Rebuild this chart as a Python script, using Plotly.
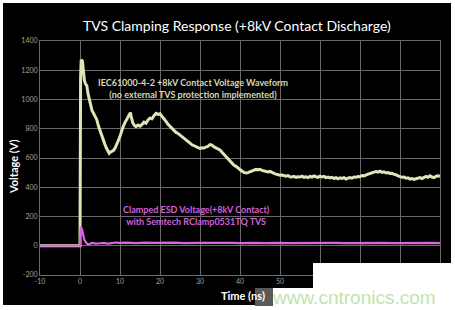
import plotly.graph_objects as go

# ---- data ----
unprotected_t = [-10, 0, 0.15, 0.3, 0.6, 0.9, 1.1, 1.4, 1.7, 2.0, 2.3, 2.6, 3.0, 3.4, 3.8, 4.2, 4.6,
                 5.0, 5.4, 5.8, 6.2, 6.6, 7.0, 7.3, 7.6, 8.0, 8.4, 8.8, 9.2, 9.6, 10.0, 10.4, 10.8,
                 11.2, 11.6, 12.0, 12.3, 12.6, 12.9, 13.2, 13.6, 14.0, 14.5, 15.0, 15.5, 16.0, 16.5,
                 17.0, 17.5, 18.0, 18.5, 19.0, 19.5, 20.0, 20.5, 21.0, 21.5, 22.0, 22.5, 23.0, 23.5,
                 24.0, 24.5, 25.0, 25.5, 26.0, 26.5, 27.0, 27.5, 28.0, 28.5, 29.0, 29.5, 30.0, 30.5,
                 31.0, 31.5, 32.0, 32.5, 33.0, 33.5, 34.0, 34.5, 35.0, 35.5, 36.0, 36.5, 37.0, 37.5,
                 38.0, 38.5, 39.0, 39.5, 40.0, 40.5, 41.0, 41.5, 42.0, 42.5, 43.0, 43.5, 44.0, 44.5,
                 45.0, 45.5, 46.0, 46.5, 47.0, 47.5, 48.0, 48.5, 49.0, 49.5, 50.0, 50.5, 51.0, 51.5,
                 52.0, 52.5, 53.0, 53.5, 54.0, 54.5, 55.0, 55.5, 56.0, 56.5, 57.0, 57.5, 58.0, 58.5,
                 59.0, 59.5, 60.0, 60.5, 61.0, 61.5, 62.0, 62.5, 63.0, 63.5, 64.0, 64.5, 65.0, 65.5,
                 66.0, 66.5, 67.0, 67.5, 68.0, 68.5, 69.0, 69.5, 70.0, 70.5, 71.0, 71.5, 72.0, 72.5,
                 73.0, 73.5, 74.0, 74.5, 75.0, 75.5, 76.0, 76.5, 77.0, 77.5, 78.0, 78.5, 79.0, 79.5,
                 80.0, 80.5, 81.0, 81.5, 82.0, 82.5, 83.0, 83.5, 84.0, 84.5, 85.0, 85.5, 86.0, 86.5,
                 87.0, 87.5, 88.0, 88.5, 89.0, 89.5, 90.0]
unprotected_v = [0, 0, 1150, 1272, 1262, 1190, 1130, 1105, 1095, 1040, 1000, 960, 925, 905, 880, 862, 820,
                 785, 750, 722, 695, 668, 648, 632, 640, 645, 652, 670, 690, 720, 748, 785, 815,
                 840, 862, 880, 900, 910, 870, 840, 822, 815, 825, 818, 830, 845, 838,
                 860, 872, 868, 890, 905, 898, 902, 885, 870, 850, 830, 815, 800, 790,
                 775, 768, 758, 745, 735, 722, 712, 702, 690, 685, 675, 672, 665, 670,
                 668, 675, 680, 692, 688, 676, 668, 660, 655, 640, 625, 605, 588, 575,
                 562, 550, 543, 530, 520, 510, 502, 497, 500, 505, 512, 518, 522, 520,
                 523, 515, 510, 508, 504, 508, 500, 495, 490, 486, 482, 484, 478, 476,
                 480, 472, 470, 474, 468, 472, 470, 476, 468, 472, 466, 474, 470, 478,
                 472, 468, 476, 470, 474, 466, 470, 464, 468, 460, 466, 458, 464, 460,
                 466, 456, 462, 466, 462, 470, 468, 474, 472, 480, 478, 486, 490, 494,
                 500, 504, 508, 504, 510, 502, 506, 498, 500, 494, 496, 488, 486, 478,
                 474, 468, 470, 462, 464, 456, 460, 454, 458, 462, 466, 460, 470, 474,
                 468, 478, 470, 466, 474, 478, 474]

clamped_t = [-10, 0, 0.05, 0.2, 0.5, 0.8, 1.1, 1.5, 2.0, 2.5, 3.0, 3.5, 4.0, 5.0, 6.0, 7.0, 8.0, 9.0,
             10, 12, 14, 16, 18, 20, 22, 24, 26, 28, 30, 32, 34, 36, 38, 40, 42, 44, 46, 48, 50,
             52, 54, 56, 58, 60, 62, 64, 66, 68, 70, 72, 74, 76, 78, 80, 82, 84, 86, 88, 90]
clamped_v = [0, 0, 60, 132, 110, 70, 40, 22, 8, 12, 20, 18, 14, 17, 20, 14, 18, 22,
             20, 22, 18, 22, 20, 22, 19, 21, 18, 21, 19, 20, 18, 20, 19, 18, 20, 19, 18, 20, 19,
             18, 19, 18, 20, 19, 18, 19, 18, 19, 18, 19, 18, 19, 18, 19, 18, 19, 18, 19, 18]

x_ticks = [-10, 0, 10, 20, 30, 40, 50, 60, 70, 80, 90]
y_ticks = [-200, 0, 200, 400, 600, 800, 1000, 1200, 1400]

YELLOW = "#dde6b6"
MAGENTA = "#d966e0"
GRID = "#6a6a6a"

fig = go.Figure()
fig.add_trace(go.Scatter(x=unprotected_t, y=unprotected_v, mode="lines",
                         line=dict(color=YELLOW, width=3), showlegend=False))
fig.add_trace(go.Scatter(x=clamped_t, y=clamped_v, mode="lines",
                         line=dict(color=MAGENTA, width=2.2), showlegend=False))

def px2paper(px, py):
    return (px - 40) / 400.0, (275 - py) / 234.0

shapes = []
# black chart background
x0, y1 = px2paper(3, 3)
x1, y0 = px2paper(451, 305)
shapes.append(dict(type="rect", xref="paper", yref="paper", x0=x0, x1=x1, y0=y0, y1=y1,
                   fillcolor="black", line=dict(width=0), layer="below"))
# watermark overlay areas
a0, b1 = px2paper(313, 263)
a1, b0 = px2paper(456, 311)
shapes.append(dict(type="rect", xref="paper", yref="paper", x0=a0, x1=a1, y0=b0, y1=b1,
                   fillcolor="white", line=dict(width=0), layer="above"))
c0, d1 = px2paper(273, 288)
shapes.append(dict(type="rect", xref="paper", yref="paper", x0=c0, x1=a0, y0=b0, y1=d1,
                   fillcolor="white", line=dict(width=0), layer="above"))
e0, f1 = px2paper(255, 288)
e1, f0 = px2paper(273, 306)
shapes.append(dict(type="rect", xref="paper", yref="paper", x0=e0, x1=e1, y0=f0, y1=f1,
                   fillcolor="#5a5a5a", line=dict(width=0), layer="above"))

annotations = []
tx, ty = px2paper(237, 25)
annotations.append(dict(text="TVS Clamping Response (+8kV Contact Discharge)", x=tx, y=ty,
                        xref="paper", yref="paper", showarrow=False, xanchor="center", yanchor="middle",
                        font=dict(family="Lato", size=14, color="white")))
vx, vy = px2paper(13, 167)
annotations.append(dict(text="<b>Voltage (V)</b>", x=vx, y=vy, xref="paper", yref="paper",
                        showarrow=False, textangle=-90, xanchor="center", yanchor="middle",
                        font=dict(family="Lato", size=11, color="white")))
hx, hy = px2paper(243, 295)
annotations.append(dict(text="<b>Time (ns)</b>", x=hx, y=hy, xref="paper", yref="paper",
                        showarrow=False, xanchor="center", yanchor="middle",
                        font=dict(family="Lato", size=11, color="white")))
ax_, ay_ = px2paper(193, 88.5)
annotations.append(dict(text="<b>IEC61000-4-2 +8kV Contact Voltage Waveform<br>(no external TVS protection implemented)</b>",
                        x=ax_, y=ay_, xref="paper", yref="paper", showarrow=False,
                        xanchor="center", yanchor="middle", align="center",
                        font=dict(family="Lato", size=9, color="#d4d8b8")))
mx, my = px2paper(196, 215.5)
annotations.append(dict(text="<b>Clamped ESD Voltage(+8kV Contact)<br>with Semtech RClamp0531TQ TVS</b>",
                        x=mx, y=my, xref="paper", yref="paper", showarrow=False,
                        xanchor="center", yanchor="middle", align="center",
                        font=dict(family="Lato", size=9, color="#d262dc")))
wx, wy = px2paper(354, 297)
annotations.append(dict(text="www.cntronics.com", x=wx, y=wy, xref="paper", yref="paper",
                        showarrow=False, xanchor="center", yanchor="middle",
                        font=dict(family="Liberation Sans", size=19, color="#bfe3b0")))

fig.update_layout(
    width=455, height=310,
    margin=dict(l=40, r=15, t=41, b=35),
    paper_bgcolor="white", plot_bgcolor="black",
    shapes=shapes, annotations=annotations,
    xaxis=dict(range=[-10, 90], tickvals=x_ticks, ticktext=[str(v) for v in x_ticks],
               showgrid=True, gridcolor=GRID, gridwidth=1, zeroline=False,
               showline=True, mirror=True, linecolor=GRID, ticks="",
               tickfont=dict(family="Lato", size=7, color="#a0a0a0")),
    yaxis=dict(range=[-200, 1400], tickvals=y_ticks, ticktext=[str(v) for v in y_ticks],
               showgrid=True, gridcolor=GRID, gridwidth=1, zeroline=False,
               showline=True, mirror=True, linecolor=GRID, ticks="",
               tickfont=dict(family="Lato", size=7, color="#a0a0a0")),
)

fig.write_html("out.html")
